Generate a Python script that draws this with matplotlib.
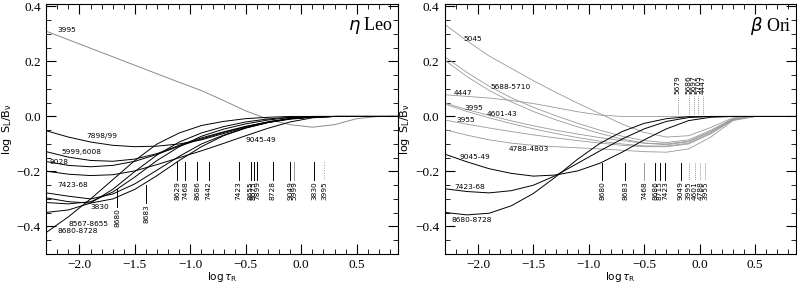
import numpy as np
import matplotlib
matplotlib.use("Agg")
from matplotlib import pyplot as plt
from matplotlib.ticker import MultipleLocator

# common log tau_R grid
tau = [-2.3, -2.1, -1.9, -1.7, -1.5, -1.3, -1.1, -0.9, -0.7, -0.5, -0.3, -0.1, 0.1, 0.3, 0.5, 0.7, 0.9]

# eta Leo
leo_3995 = [0.31, 0.279, 0.248, 0.217, 0.186, 0.155, 0.124, 0.094, 0.058, 0.02, -0.01, -0.03, -0.039, -0.03, -0.008, 0.0, 0.0]
leo_7898 = [-0.052, -0.075, -0.093, -0.105, -0.11, -0.108, -0.1, -0.085, -0.062, -0.04, -0.022, -0.01, -0.003, 0, 0, 0, 0]
leo_5999 = [-0.128, -0.148, -0.16, -0.163, -0.155, -0.135, -0.105, -0.078, -0.056, -0.036, -0.02, -0.008, -0.002, 0, 0, 0, 0]
leo_9028 = [-0.164, -0.178, -0.183, -0.178, -0.163, -0.138, -0.108, -0.082, -0.058, -0.037, -0.02, -0.008, -0.002, 0, 0, 0, 0]
leo_9045 = [-0.199, -0.21, -0.215, -0.212, -0.198, -0.175, -0.15, -0.125, -0.098, -0.07, -0.043, -0.02, -0.005, 0, 0, 0, 0]
leo_7423 = [-0.278, -0.29, -0.3, -0.282, -0.245, -0.195, -0.145, -0.1, -0.068, -0.042, -0.022, -0.008, -0.002, 0, 0, 0, 0]
leo_3830 = [-0.296, -0.31, -0.315, -0.3, -0.265, -0.215, -0.16, -0.11, -0.07, -0.042, -0.022, -0.008, -0.002, 0, 0, 0, 0]
leo_8567 = [-0.313, -0.318, -0.31, -0.275, -0.22, -0.16, -0.11, -0.072, -0.046, -0.027, -0.013, -0.004, 0, 0, 0, 0, 0]
leo_8542 = [-0.349, -0.34, -0.315, -0.265, -0.2, -0.14, -0.093, -0.06, -0.037, -0.02, -0.009, -0.003, 0, 0, 0, 0, 0]
leo_8680 = [-0.422, -0.365, -0.3, -0.23, -0.16, -0.1, -0.06, -0.033, -0.018, -0.008, -0.003, 0, 0, 0, 0, 0, 0]

leo_curves = [leo_7898, leo_5999, leo_9028, leo_9045, leo_7423, leo_3830, leo_8567, leo_8542, leo_8680]
leo_labels = ["3995", "7898/99", "5999,6008", "9028", "7423-68", "3830", "8567-8655", "8680-8728", "9045-49"]
leo_label_x = [-2.2, -1.94, -2.16, -2.27, -2.2, -1.9, -2.1, -2.2, -0.5]
leo_label_y = [0.315, -0.07, -0.13, -0.167, -0.248, -0.33, -0.39, -0.417, -0.085]

leo_mark = ["8680", "8683", "8629", "7468", "8686", "7442", "7423", "8655", "8675", "7899",
            "8728", "9049", "5999", "3830", "3995"]
leo_mark_x = [-1.66, -1.4, -1.118, -1.045, -0.936, -0.836, -0.564, -0.455, -0.43, -0.4,
              -0.255, -0.1, -0.064, 0.118, 0.209]
leo_mark_top = [-0.265, -0.248] + [-0.166] * 13
leo_mark_gray = [False] * 12 + [True, False, True]

# beta Ori
ori_gray = {
    "5045": [0.335, 0.275, 0.22, 0.175, 0.13, 0.088, 0.048, 0.01, -0.028, -0.058, -0.075, -0.07, -0.04, -0.005, 0, 0, 0],
    "5688": [0.217, 0.16, 0.11, 0.068, 0.033, 0.003, -0.025, -0.05, -0.072, -0.088, -0.095, -0.085, -0.05, -0.008, 0, 0, 0],
    "5710": [0.205, 0.145, 0.095, 0.053, 0.018, -0.012, -0.038, -0.062, -0.082, -0.097, -0.103, -0.092, -0.055, -0.01, 0, 0, 0],
    "4447": [0.079, 0.073, 0.067, 0.058, 0.047, 0.032, 0.017, 0.005, 0.0, 0.0, 0.0, 0.0, 0.0, 0, 0, 0, 0],
    "3995": [0.049, 0.025, 0.004, -0.016, -0.034, -0.05, -0.064, -0.077, -0.088, -0.097, -0.1, -0.09, -0.055, -0.01, 0, 0, 0],
    "4601": [0.045, 0.018, -0.005, -0.026, -0.045, -0.062, -0.077, -0.09, -0.1, -0.107, -0.108, -0.097, -0.06, -0.012, 0, 0, 0],
    "3955": [-0.013, -0.028, -0.042, -0.055, -0.067, -0.078, -0.088, -0.097, -0.105, -0.11, -0.11, -0.1, -0.063, -0.013, 0, 0, 0],
    "4788": [-0.048, -0.068, -0.085, -0.097, -0.105, -0.11, -0.114, -0.118, -0.123, -0.128, -0.13, -0.118, -0.075, -0.015, 0, 0, 0],
}
ori_9045 = [-0.137, -0.165, -0.19, -0.207, -0.217, -0.213, -0.198, -0.17, -0.13, -0.085, -0.045, -0.015, -0.003, 0, 0, 0, 0]
ori_7423 = [-0.263, -0.273, -0.278, -0.27, -0.25, -0.215, -0.17, -0.125, -0.082, -0.045, -0.018, -0.004, 0, 0, 0, 0, 0]
ori_8680 = [-0.349, -0.358, -0.352, -0.325, -0.28, -0.22, -0.155, -0.098, -0.055, -0.025, -0.008, -0.001, 0, 0, 0, 0, 0]

ori_labels = ["5045", "5688-5710", "4447", "3995", "4601-43", "3955", "4788-4803", "9045-49", "7423-68", "8680-8728"]
ori_label_x = [-2.13, -1.89, -2.22, -2.12, -1.92, -2.19, -1.72, -2.17, -2.21, -2.24]
ori_label_y = [0.283, 0.106, 0.087, 0.03, 0.01, -0.013, -0.12, -0.146, -0.257, -0.375]

ori_up_mark = ["5679", "5686", "5697", "5705", "4447"]
ori_up_x = [-0.2, -0.1, -0.055, -0.015, 0.025]
ori_mark = ["8680", "8683", "7468", "8686", "8715", "7423", "9049", "3995", "4601", "4788", "3955"]
ori_mark_x = [-0.88, -0.67, -0.5, -0.4, -0.36, -0.31, -0.17, -0.1, -0.045, 0.005, 0.05]
ori_mark_gray = [False, False, True, False, False, False, False, True, True, True, True]

serif = "Liberation Serif"
lab_fs = 5.3


def setup(ax, name):
    ax.set_xlim(-2.3, 0.87)
    ax.set_ylim(-0.5, 0.41)
    ax.xaxis.set_major_locator(MultipleLocator(0.5))
    ax.xaxis.set_minor_locator(MultipleLocator(0.1))
    ax.yaxis.set_major_locator(MultipleLocator(0.2))
    ax.yaxis.set_minor_locator(MultipleLocator(0.05))
    ax.tick_params(which="both", direction="in", top=True, right=True, labelsize=9.5, pad=4)
    ax.tick_params(which="major", length=7, width=0.8)
    ax.tick_params(which="minor", length=3.5, width=0.6)
    for lab in ax.get_xticklabels() + ax.get_yticklabels():
        lab.set_family(serif)
    ax.set_xlabel(r"$\log\tau_{\rm R}$", fontsize=7.5, labelpad=-1)
    ax.set_ylabel(r"$\log\ {\rm S_L/B_\nu}$", fontsize=8)
    ax.yaxis.set_label_coords(-0.093, 0.5)
    ax.text(0.83, 0.33, name, ha="right", va="center", fontsize=13, family=serif)


fig = plt.figure(figsize=(7.97, 2.85), dpi=100)
ax1 = fig.add_axes([0.058, 0.109, 0.441, 0.878])
ax2 = fig.add_axes([0.558, 0.109, 0.441, 0.878])

# left: eta Leo
ax1.plot(tau, leo_3995, color="0.55", lw=0.7)
for c in leo_curves:
    ax1.plot(tau, c, color="k", lw=0.7)
for t, x, y in zip(leo_labels, leo_label_x, leo_label_y):
    ax1.text(x, y, t, fontsize=lab_fs, ha="left", va="center")
for t, x, top, g in zip(leo_mark, leo_mark_x, leo_mark_top, leo_mark_gray):
    col = "0.6" if g else "k"
    bot = top - 0.065
    ax1.plot([x, x], [top, bot], color=col, lw=0.7, ls=":" if t == "3995" else "-")
    ax1.text(x, bot - 0.005, t, fontsize=lab_fs, rotation=90, ha="center", va="top")
setup(ax1, r"$\eta$ Leo")

# right: beta Ori
for k, c in ori_gray.items():
    ax2.plot(tau, c, color="0.6", lw=0.6)
for c in [ori_9045, ori_7423, ori_8680]:
    ax2.plot(tau, c, color="k", lw=0.7)
for t, x, y in zip(ori_labels, ori_label_x, ori_label_y):
    ax2.text(x, y, t, fontsize=lab_fs, ha="left", va="center")
for t, x in zip(ori_up_mark, ori_up_x):
    ax2.plot([x, x], [0.01, 0.075], color="0.6", lw=0.7, ls=(0, (1, 1)))
    ax2.text(x, 0.08, t, fontsize=lab_fs, rotation=90, ha="center", va="bottom")
for t, x, g in zip(ori_mark, ori_mark_x, ori_mark_gray):
    ax2.plot([x, x], [-0.17, -0.23], color="0.6" if g else "k", lw=0.7,
             ls=(0, (1, 1)) if g and t != "7468" else "-")
    ax2.text(x, -0.235, t, fontsize=lab_fs, rotation=90, ha="center", va="top")
setup(ax2, r"$\beta$ Ori")

fig.savefig("out.png", dpi=100)
